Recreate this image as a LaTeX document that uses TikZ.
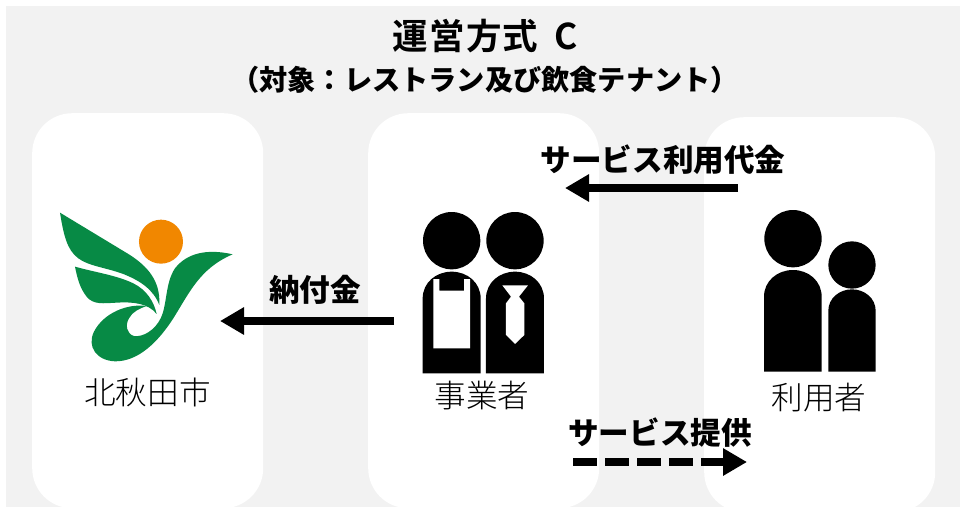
\documentclass[tikz,border=0pt]{standalone}
\usepackage{fontspec}
\usetikzlibrary{arrows.meta}
\setmainfont{Noto Sans CJK JP}
\newfontfamily\jplight{Noto Sans CJK JP Light}
\newfontfamily\jptitle[LetterSpace=4,BoldFont={Noto Sans CJK JP Bold}]{Noto Sans CJK JP}
\definecolor{bgGray}{HTML}{F2F2F2}
\definecolor{logoGreen}{HTML}{078A45}
\definecolor{logoOrange}{HTML}{F18700}
\tikzset{
  x=1pt,y=-1pt,
  panel/.style={fill=white,draw=none,rounded corners=40pt,minimum width=231pt,anchor=north west,inner sep=0pt},
  boldlabel/.style={font=\bfseries\fontsize{30.6}{32}\selectfont,inner sep=0pt,text=black},
  lightlabel/.style={font=\jplight\fontsize{31.6}{33}\selectfont,inner sep=0pt,text=black},
  flow/.style={line width=8.5pt,-{Triangle[length=24pt,width=26pt]},black},
  dashflow/.style={flow,dash pattern=on 24pt off 8pt},
  icon/.style={fill=black,draw=none},
  iconw/.style={fill=white,draw=none},
}
\begin{document}
\begin{tikzpicture}
\useasboundingbox (0,0) rectangle (960,507);
\clip (0,0) rectangle (960,507);
\fill[bgGray] (6,6) rectangle (960,507);
% panels
\node[panel,minimum height=395pt] (city) at (32,113) {};
\node[panel,minimum height=395pt] (operator) at (368,113) {};
\node[panel,minimum height=395pt] (user) at (704,117) {};
% titles
\node[inner sep=0pt,font=\jptitle\bfseries\fontsize{35.5}{37}\selectfont] (title) at (485,36) {運営方式\hspace{16pt}C};
\node[inner sep=0pt,font=\bfseries\fontsize{28.2}{30}\selectfont] (subtitle) at (485,80) {（対象：レストラン及び飲食テナント）};
% logo
\begin{scope}[shift={(30,190)},x=0.3333pt,y=-0.3333pt]
\fill[logoOrange] (393,155) circle[radius=66];
\fill[logoGreen] (90,68) -- (300,195) .. controls (350,228) and (392,270) .. (388,345)
  .. controls (370,298) and (330,272) .. (280,252)
  .. controls (225,232) and (175,228) .. (145,205)
  .. controls (110,180) and (100,130) .. (90,68) -- cycle;
\fill[logoGreen] (135,230) .. controls (200,248) and (260,256) .. (310,280)
  .. controls (350,300) and (372,335) .. (380,372)
  .. controls (355,340) and (310,335) .. (260,338)
  .. controls (220,340) and (190,345) .. (170,320)
  .. controls (150,295) and (142,265) .. (135,230) -- cycle;
\fill[logoGreen] (608,193) .. controls (530,175) and (470,190) .. (435,235)
  .. controls (405,280) and (412,345) .. (392,385)
  .. controls (375,420) and (340,442) .. (312,438)
  .. controls (290,432) and (285,405) .. (297,385)
  .. controls (307,365) and (330,355) .. (350,348)
  .. controls (290,340) and (220,370) .. (192,425)
  .. controls (170,470) and (200,512) .. (255,514)
  .. controls (325,515) and (385,455) .. (430,385)
  .. controls (480,305) and (510,235) .. (608,193) -- cycle;
\end{scope}
% operator icons
\begin{scope}[shift={(400,200)},x=0.3333pt,y=-0.3333pt]
\fill[icon] (155,122) circle[radius=86];
\fill[icon] (345,122) circle[radius=86];
\fill[icon] (68,520) -- (68,295) .. controls (68,248) and (108,215) .. (155,215) .. controls (202,215) and (242,248) .. (242,295) -- (242,520) -- cycle;
\fill[icon] (258,520) -- (258,295) .. controls (258,248) and (298,215) .. (345,215) .. controls (392,215) and (432,248) .. (432,295) -- (432,520) -- cycle;
\fill[iconw] (100,237) -- (118,237) -- (118,272) -- (192,272) -- (192,237) -- (210,237) -- (210,445) -- (100,445) -- cycle;
\fill[iconw] (307,256) -- (384,256) -- (357,290) -- (373,310) -- (373,405) -- (345,432) -- (318,405) -- (318,310) -- (333,290) -- cycle;
\end{scope}
% user icons
\begin{scope}[shift={(740,200)},x=0.3333pt,y=-0.3333pt]
\fill[icon] (159,116) circle[radius=86];
\fill[icon] (336,195) circle[radius=71];
\fill[icon] (72,515) -- (72,290) .. controls (72,243) and (112,210) .. (159,210) .. controls (206,210) and (245,243) .. (245,290) -- (245,515) -- cycle;
\fill[icon] (265,515) -- (265,332) .. controls (265,295) and (298,268) .. (336,268) .. controls (374,268) and (407,295) .. (407,332) -- (407,515) -- cycle;
\end{scope}
% labels
\node[lightlabel] (cityname) at (147.5,392) {北秋田市};
\node[lightlabel] (opname) at (482,396) {事業者};
\node[lightlabel] (username) at (819,398) {利用者};
\node[boldlabel] (payfee) at (315,290) {納付金};
\node[boldlabel] (usefee) at (663,160) {サービス利用代金};
\node[boldlabel] (service) at (660,433) {サービス提供};
% connector ends
\coordinate (a1) at (394,321);
\coordinate (a2) at (220,321);
\coordinate (b1) at (738,188);
\coordinate (b2) at (565,188);
\coordinate (c1) at (573,462);
\coordinate (c2) at (747,462);
\draw[flow] (a1) -- (a2);
\draw[flow] (b1) -- (b2);
\draw[dashflow] (c1) -- (c2);
\end{tikzpicture}
\end{document}
